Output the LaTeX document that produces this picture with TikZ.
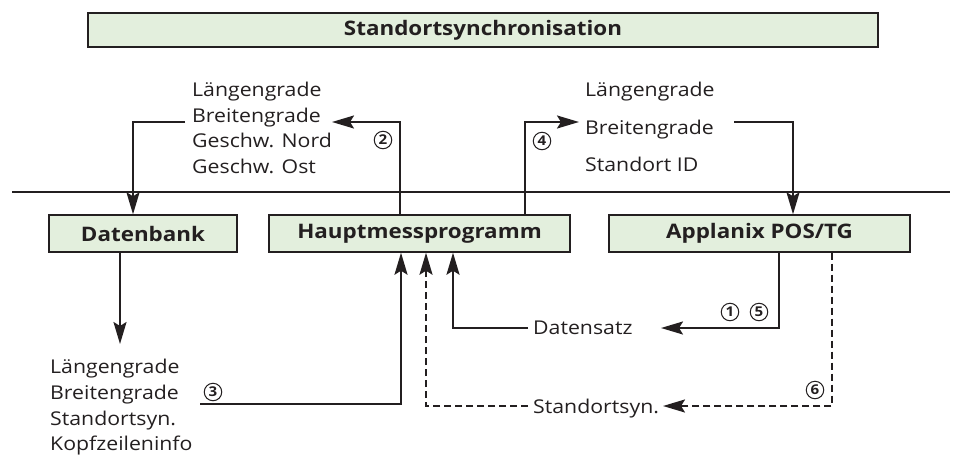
\documentclass[tikz,border=0pt]{standalone}
\usepackage{fontspec}
\setmainfont{Open Sans}[FakeStretch=1.12]
\usetikzlibrary{arrows.meta}
\definecolor{boxfill}{HTML}{E3EFDD}
\definecolor{ink}{HTML}{231F20}
\begin{document}
\begin{tikzpicture}[x=1pt,y=-1pt,
  every node/.style={text=ink},
  unit/.style={draw=ink,line width=1.4pt,fill=boxfill,inner sep=0pt,
    font=\fontsize{20}{22}\selectfont\bfseries},
  label/.style={anchor=base west,inner sep=0pt,font=\fontsize{19}{21}\selectfont},
  num/.style={circle,draw=ink,line width=1pt,minimum size=17.5pt,inner sep=0pt,
    font=\fontsize{13.5}{14}\selectfont\bfseries},
  flow/.style={draw=ink,line width=2.2pt,-{Stealth[length=22pt,width=13pt,inset=4pt]}},
  sync/.style={flow,dash pattern=on 7pt off 4pt}]
\useasboundingbox (0,0) rectangle (954,456);

% title bar
\node[unit,minimum width=790pt,minimum height=34pt] (title) at (483,30) {Standortsynchronisation};

% network line
\coordinate (busL) at (12,192);
\coordinate (busR) at (950,192);
\draw[ink,line width=2.2pt] (busL) -- (busR);

% units on the bus
\node[unit,minimum width=188pt,minimum height=37pt] (db) at (143,233.5) {Datenbank};
\node[unit,minimum width=301pt,minimum height=37pt] (hmp) at (419.5,233.5) {Hauptmessprogramm};
\node[unit,minimum width=301pt,minimum height=37pt] (apx) at (759.5,233.5) {Applanix POS/TG};

% data sent to the database
\node[label] (l1) at (192,96.5) {Längengrade};
\node[label] (l2) at (192,122) {Breitengrade};
\node[label] (l3) at (192,147.5) {Geschw. Nord};
\node[label] (l4) at (192,173) {Geschw. Ost};

% data sent to the POS
\node[label] (r1) at (585,96) {Längengrade};
\node[label] (r2) at (585,134) {Breitengrade};
\node[label] (r3) at (585,171) {Standort ID};

% data read from the database
\node[label] (b1) at (50,373) {Längengrade};
\node[label] (b2) at (50,399) {Breitengrade};
\node[label] (b3) at (50,425) {Standortsyn.};
\node[label] (b4) at (50,450.5) {Kopfzeileninfo};

% replies from the POS
\node[label] (ds) at (533,334) {Datensatz};
\node[label] (ss) at (533,413) {Standortsyn.};

% step numbers
\node[num] (n1) at (730,312) {1};
\node[num] (n2) at (383,140) {2};
\node[num] (n3) at (213,392) {3};
\node[num] (n4) at (542,141) {4};
\node[num] (n5) at (759,312) {5};
\node[num] (n6) at (815,390) {6};

% routing points
\coordinate (k2) at (400,122);
\coordinate (k2end) at (332,122);
\coordinate (kdb) at (133,122);
\coordinate (kdbstart) at (185,122);
\coordinate (k4) at (525,122);
\coordinate (k4end) at (579,122);
\coordinate (kapstart) at (734,122);
\coordinate (kap) at (793,122);
\coordinate (kdown) at (120,344);
\coordinate (k3start) at (200,404);
\coordinate (k3) at (401,404);
\coordinate (kds) at (453,328);
\coordinate (kdsstart) at (528,328);
\coordinate (k15) at (779,328);
\coordinate (k15end) at (661,328);
\coordinate (ksy) at (426,406);
\coordinate (ksystart) at (528,406);
\coordinate (k6) at (832,406);
\coordinate (k6end) at (663,406);

% step 2: main program -> database
\draw[flow] (k2 |- hmp.north) -- (k2) -- (k2end);
\draw[flow] (kdbstart) -- (kdb) -- (kdb |- db.north);

% step 4: main program -> POS
\draw[flow] (k4 |- hmp.north) -- (k4) -- (k4end);
\draw[flow] (kapstart) -- (kap) -- (kap |- apx.north);

% database -> record, step 3 back to main program
\draw[flow] (kdown |- db.south) -- (kdown);
\draw[flow] (k3start) -- (k3) -- (k3 |- hmp.south);

% steps 1 and 5: POS data record
\draw[flow] (k15 |- apx.south) -- (k15) -- (k15end);
\draw[flow] (kdsstart) -- (kds) -- (kds |- hmp.south);

% step 6: location sync
\draw[sync] (k6 |- apx.south) -- (k6) -- (k6end);
\draw[sync] (ksystart) -- (ksy) -- (ksy |- hmp.south);
\end{tikzpicture}
\end{document}
